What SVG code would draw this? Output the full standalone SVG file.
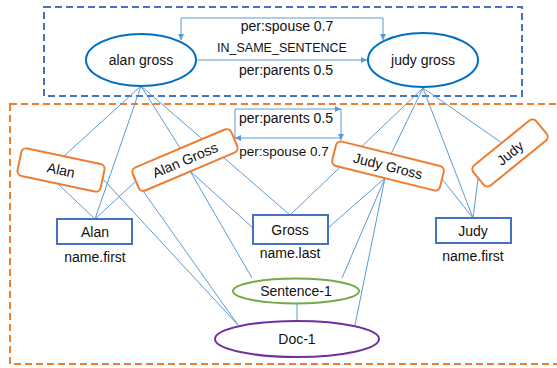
<svg xmlns="http://www.w3.org/2000/svg" width="557" height="368" viewBox="0 0 557 368">
<style>
text{font-family:"Liberation Sans",Arial,sans-serif;fill:#111;text-anchor:middle}
.n{font-size:14px}
.e{font-size:14px}
.ln{stroke:#5B9BD5;stroke-width:1;fill:none}
.top{fill:#fff;stroke:#0070C0;stroke-width:2}
.rr{fill:#fff;stroke:#ED7D31;stroke-width:2}
.bx{fill:#fff;stroke:#4472C4;stroke-width:2}
</style>
<defs>
<marker id="ar" markerWidth="8" markerHeight="8" refX="6" refY="3" orient="auto-start-reverse" markerUnits="userSpaceOnUse">
<path d="M0,0 L6,3 L0,6 z" fill="#5B9BD5"/>
</marker>
</defs>
<rect x="44" y="7" width="478" height="89" fill="none" stroke="#4472C4" stroke-width="2" stroke-dasharray="7,4"/>
<rect x="10" y="104" width="552" height="260" fill="none" stroke="#ED7D31" stroke-width="2" stroke-dasharray="7,4"/>
<g id="connectors">
<path class="ln" d="M181,40 V18 H383 V40" marker-start="url(#ar)" marker-end="url(#ar)"/>
<path class="ln" d="M197,60 H367" marker-end="url(#ar)"/>
<path class="ln" d="M235,138 V109 H341" marker-end="url(#ar)"/>
<path class="ln" d="M341,109 V140" marker-end="url(#ar)"/>
<path class="ln" d="M341,138 H235" marker-end="url(#ar)"/>
<path class="ln" d="M141,86 L64,156 M141,86 L95,219 M141,86 L180,148 M141,86 L290,215"/>
<path class="ln" d="M423,88 L290,215 M423,88 L391,154 M423,88 L473,218 M423,88 L502,143"/>
<path class="ln" d="M58,184 L95,219 M103,179 L238,325"/>
<path class="ln" d="M136,181 L95,219 M136,181 L238,325 M190,171 L253,228 M190,171 L252,278"/>
<path class="ln" d="M442,179 L473,218 M385,178 L328,228 M385,178 L342,278 M385,178 L355,325"/>
<path class="ln" d="M478,179 L473,218 M297,303 L297,321"/>
</g>
<text class="e" x="287" y="31">per:spouse 0.7</text>
<text class="e" x="282" y="52" style="font-size:12.5px">IN_SAME_SENTENCE</text>
<text class="e" x="286" y="75">per:parents 0.5</text>
<text class="e" x="286" y="123">per:parents 0.5</text>
<text class="e" x="284" y="156" style="font-size:13.5px">per:spouse 0.7</text>
<g id="alan-gross"><ellipse class="top" cx="141" cy="60" rx="55" ry="26"/><text class="n" x="141" y="65">alan gross</text></g>
<g id="judy-gross"><ellipse class="top" cx="423" cy="60" rx="55" ry="27"/><text class="n" x="423" y="65">judy gross</text></g>
<g id="alan-mention" transform="translate(61,170) rotate(12)"><rect class="rr" x="-42.5" y="-14" width="85" height="28" rx="5"/><text class="n" x="0" y="5">Alan</text></g>
<g id="alan-gross-mention" transform="translate(185,160) rotate(-23)"><rect class="rr" x="-53.5" y="-12.5" width="107" height="25" rx="5"/><text class="n" x="0" y="5">Alan Gross</text></g>
<g id="judy-gross-mention" transform="translate(388,166) rotate(14)"><rect class="rr" x="-55.5" y="-12.5" width="111" height="25" rx="5"/><text class="n" x="0" y="5">Judy Gross</text></g>
<g id="judy-mention" transform="translate(510,153) rotate(-39)"><rect class="rr" x="-40.5" y="-13" width="81" height="26" rx="5"/><text class="n" x="0" y="5">Judy</text></g>
<g id="alan-first"><rect class="bx" x="57" y="219" width="75" height="25"/><text class="n" x="95" y="237">Alan</text><text class="n" x="95" y="262">name.first</text></g>
<g id="gross-last"><rect class="bx" x="253" y="215" width="75" height="29"/><text class="n" x="290" y="235">Gross</text><text class="n" x="290" y="258">name.last</text></g>
<g id="judy-first"><rect class="bx" x="436" y="218" width="75" height="25"/><text class="n" x="473" y="236">Judy</text><text class="n" x="473" y="261">name.first</text></g>
<g id="sentence-1"><ellipse cx="296" cy="291" rx="63" ry="12.5" fill="#fff" stroke="#70AD47" stroke-width="2"/><text class="n" x="296" y="296">Sentence-1</text></g>
<g id="doc-1"><ellipse cx="297" cy="339" rx="82" ry="18" fill="#fff" stroke="#7030A0" stroke-width="2"/><text class="n" x="297" y="344">Doc-1</text></g>
</svg>
